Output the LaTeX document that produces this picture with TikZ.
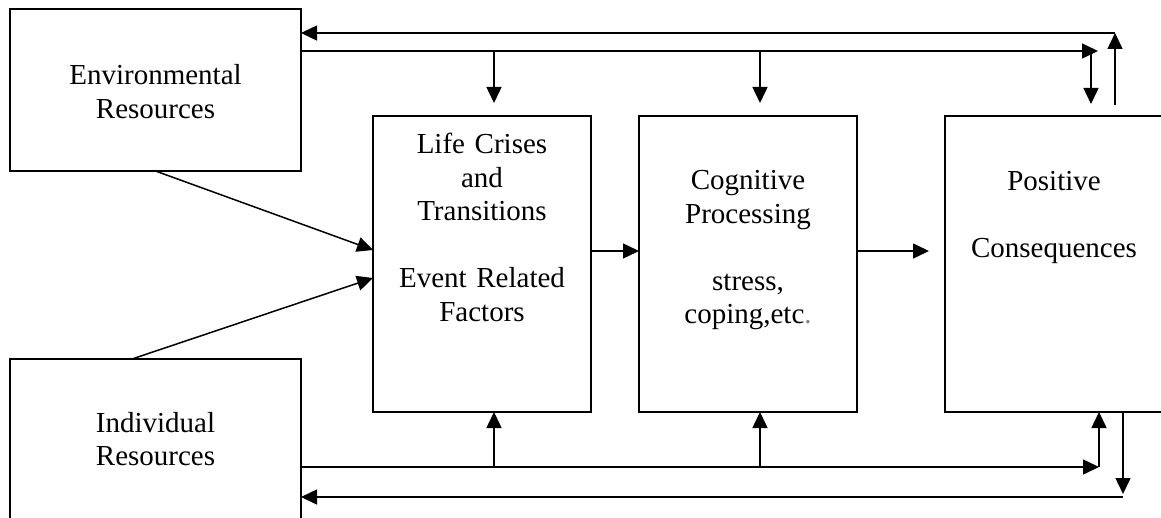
\documentclass[tikz,border=0pt]{standalone}
\usepackage{fontspec}
\setmainfont{Liberation Serif}
\usetikzlibrary{arrows.meta,calc}
\definecolor{dotgray}{RGB}{128,128,128}
\begin{document}
\begin{tikzpicture}[x=1pt,y=-1pt,line width=1.5pt,
  box/.style={draw,rectangle,inner sep=0pt,outer sep=0pt},
  boxtext/.style={anchor=base,text width=#1,align=center,inner sep=0pt,
    font=\fontsize{29}{33.5}\selectfont},
  boxtext/.default=210pt,
  arr/.style={-{Triangle[length=16pt,width=15pt]}}]
\useasboundingbox (0,0) rectangle (1161,518);
\clip (0,0) rectangle (1161,518);

% boxes
\node[box,minimum width=291pt,minimum height=162pt] (env) at (155.5,90) {};
\node[box,minimum width=291pt,minimum height=181pt] (ind) at (155.5,449.5) {};
\node[box,minimum width=218pt,minimum height=296pt] (life) at (482,264) {};
\node[box,minimum width=218pt,minimum height=296pt] (cog) at (748,264) {};
\node[box,minimum width=218pt,minimum height=296pt] (pos) at (1054,264) {};

% box texts
\node[boxtext=280pt] (envtxt) at (155.5,85) {Environmental\\Resources};
\node[boxtext=280pt] (indtxt) at (155.5,432) {Individual\\Resources};
\node[boxtext] (lifetxt) at (482,154) {Life Crises\\and\\Transitions\\[33.5pt]Event Related\\Factors};
\node[boxtext] (cogtxt) at (748,190) {Cognitive\\Processing\\[33.5pt]stress,\\coping,etc\textcolor{dotgray}{.}};
\node[boxtext] (postxt) at (1054,191) {Positive\\[33.5pt]Consequences};

% resources into life crises
\draw[arr] (env.south) -- ($(life.west)+(0,-14)$);
\draw[arr] ($(ind.north)+(-23.5,0)$) -- ($(life.west)+(0,14)$);

% main chain
\draw[arr] ($(life.east)+(0,-13)$) -- ($(cog.west)+(0,-13)$);
\draw[arr] ($(cog.east)+(0,-13)$) -- ($(pos.west)+(-16,-13)$);

% environmental resources feed forward
\coordinate (envOut) at ($(env.north east)+(0,42)$);
\coordinate (envEnd) at (1098,51);
\draw[arr] (envOut) -- (envEnd);
\draw[arr] ($(life.north |- envOut)+(12,0)$) -- ($(life.north)+(12,-13)$);
\draw[arr] ($(cog.north |- envOut)+(12,0)$) -- ($(cog.north)+(12,-13)$);
\draw[arr] ($(pos.north |- envOut)+(37,0)$) -- ($(pos.north)+(37,-12)$);

% feedback to environmental resources
\coordinate (fbStart) at ($(pos.north)+(61,-11)$);
\coordinate (fbCorner) at (1115,33);
\draw[arr] (fbStart) -- (fbCorner);
\draw[arr] (fbCorner) -- (env.east |- fbCorner);

% individual resources feed forward
\coordinate (indOut) at (301,467);
\coordinate (indEnd) at (1099,467);
\draw[arr] (indOut) -- (indEnd);
\draw[arr] ($(life.south |- indOut)+(12,0)$) -- ($(life.south)+(12,0)$);
\draw[arr] ($(cog.south |- indOut)+(12,0)$) -- ($(cog.south)+(12,0)$);
\draw[arr] (indEnd) -- ($(pos.south)+(45,0)$);

% feedback to individual resources
\coordinate (fbDown) at (1123,494);
\coordinate (fbLow) at (1123,497);
\draw[arr] ($(pos.south)+(69,0)$) -- (fbDown);
\draw[arr] (fbLow) -- (ind.east |- fbLow);
\end{tikzpicture}
\end{document}
